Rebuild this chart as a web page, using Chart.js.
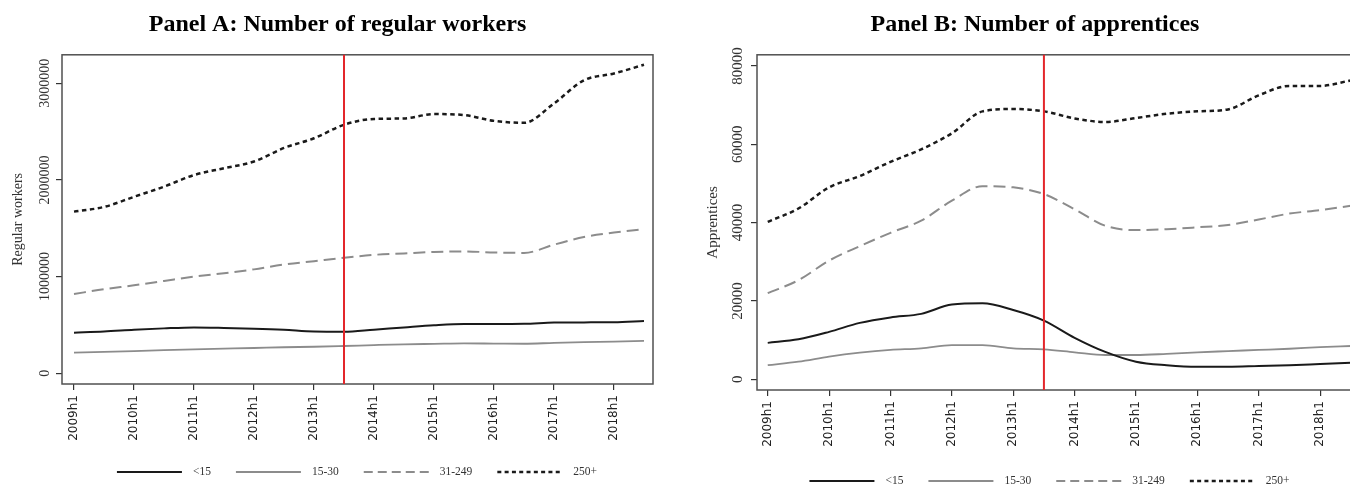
<!DOCTYPE html>
<html>
<head>
<meta charset="utf-8">
<title>Regular workers and apprentices by firm size</title>
<script src="https://cdn.jsdelivr.net/npm/chart.js@4.4.1/dist/chart.umd.min.js"></script>
<style>
  html, body { margin: 0; padding: 0; background: #fff; overflow: hidden; width: 1350px; height: 485px; }
  .panel { position: absolute; top: 0; }
  #panelA { left: 0; width: 675px; height: 485px; }
  #panelB { left: 690px; width: 690px; height: 485px; }
</style>
</head>
<body>
<div class="panel" id="panelA"><canvas id="chartA" width="675" height="485"></canvas></div>
<div class="panel" id="panelB"><canvas id="chartB" width="690" height="485"></canvas></div>
<script>
// Half-year periods on the horizontal axis
const periods = ['2009h1', '2009h2', '2010h1', '2010h2', '2011h1', '2011h2', '2012h1', '2012h2',
  '2013h1', '2013h2', '2014h1', '2014h2', '2015h1', '2015h2', '2016h1', '2016h2',
  '2017h1', '2017h2', '2018h1', '2018h2'];
const tickLabels = ['2009h1', '2010h1', '2011h1', '2012h1', '2013h1', '2014h1', '2015h1', '2016h1', '2017h1', '2018h1'];
const reformPeriod = '2013h2';

// Firm-size classes
const sizeClasses = ['<15', '15-30', '31-249', '250+'];

// Panel A: number of regular workers
const workersLt15 = [420000, 432000, 450000, 465000, 475000, 470000, 462000, 450000, 432000, 430000,
  452000, 475000, 497000, 510000, 510000, 512000, 525000, 527000, 528000, 540000];
const workers15to30 = [215000, 222000, 230000, 240000, 248000, 255000, 262000, 270000, 275000, 283000,
  292000, 300000, 305000, 310000, 308000, 306000, 315000, 322000, 328000, 335000];
const workers31to249 = [820000, 870000, 910000, 955000, 1000000, 1035000, 1075000, 1125000, 1160000, 1195000,
  1225000, 1240000, 1255000, 1260000, 1250000, 1245000, 1330000, 1410000, 1455000, 1490000];
const workers250plus = [1672000, 1720000, 1825000, 1930000, 2050000, 2120000, 2190000, 2330000, 2430000, 2570000,
  2630000, 2635000, 2680000, 2670000, 2610000, 2590000, 2790000, 3030000, 3100000, 3190000];
const workerTicks = [0, 1000000, 2000000, 3000000];

// Panel B: number of apprentices
const apprLt15 = [9300, 10200, 12100, 14400, 15800, 16700, 19100, 19400, 17700, 15000,
  10600, 7000, 4500, 3600, 3200, 3200, 3400, 3600, 3900, 4200];
const appr15to30 = [3600, 4500, 5800, 6800, 7500, 7900, 8750, 8750, 7900, 7650,
  6900, 6200, 6200, 6500, 6900, 7200, 7500, 7800, 8200, 8500];
const appr31to249 = [22000, 25300, 30300, 34000, 37400, 40500, 45600, 49300, 49000, 47300,
  43400, 39200, 38100, 38300, 38800, 39400, 40800, 42300, 43200, 44300];
const appr250plus = [40200, 43600, 49000, 51900, 55500, 58700, 62800, 68400, 69000, 68400,
  66600, 65700, 66700, 67800, 68400, 68900, 72500, 74900, 74900, 76300];
const apprTicks = [0, 20000, 40000, 60000, 80000];

// Line look for each size class
const lineStyles = [
  { color: '#1a1a1a', width: 2,   dash: [] },
  { color: '#8c8c8c', width: 1.8, dash: [] },
  { color: '#8c8c8c', width: 2,   dash: [12, 6] },
  { color: '#1a1a1a', width: 2.5, dash: [4.5, 3.5] }
];
const keyDash = [[], [], [9, 5], [4, 3.3]];

const SERIF = '"Liberation Serif", "Times New Roman", serif';

// Box around the plot area and the red reform marker
const panelFrame = {
  id: 'panelFrame',
  afterDraw(chart, args, opts) {
    const { ctx, chartArea: a, scales } = chart;
    ctx.save();
    ctx.strokeStyle = '#505050';
    ctx.lineWidth = 1.5;
    ctx.strokeRect(a.left, a.top, a.right - a.left, a.bottom - a.top);
    const x = scales.x.getPixelForValue(opts.markIndex);
    ctx.strokeStyle = '#e3262b';
    ctx.lineWidth = 2;
    ctx.beginPath();
    ctx.moveTo(x, a.top);
    ctx.lineTo(x, a.bottom);
    ctx.stroke();
    ctx.restore();
  }
};

// Line-sample key below the axis
const lineKey = {
  id: 'lineKey',
  afterDraw(chart, args, opts) {
    const ctx = chart.ctx;
    ctx.save();
    ctx.font = opts.font;
    const items = chart.data.datasets.map((ds, k) => ({ ds, k, w: ctx.measureText(ds.label).width }));
    const total = items.reduce((s, it) => s + opts.lineLen + opts.gap + it.w, 0) + opts.spacing * (items.length - 1);
    let x = opts.centerX - total / 2;
    items.forEach(it => {
      ctx.strokeStyle = it.ds.borderColor;
      ctx.lineWidth = it.ds.borderWidth;
      ctx.setLineDash(keyDash[it.k]);
      ctx.beginPath();
      ctx.moveTo(x, opts.y);
      ctx.lineTo(x + opts.lineLen, opts.y);
      ctx.stroke();
      ctx.setLineDash([]);
      ctx.fillStyle = '#333';
      ctx.textAlign = 'left';
      ctx.textBaseline = 'middle';
      ctx.fillText(it.ds.label, x + opts.lineLen + opts.gap, opts.y);
      x += opts.lineLen + opts.gap + it.w + opts.spacing;
    });
    ctx.restore();
  }
};

function buildPanel(canvasId, cfg) {
  const tickIdx = tickLabels.map(l => periods.indexOf(l));
  const tickMarks = { display: true, drawOnChartArea: false, drawTicks: true, tickLength: 6, color: '#333', lineWidth: 1.2 };
  return new Chart(document.getElementById(canvasId), {
    type: 'line',
    data: {
      datasets: cfg.series.map((vals, k) => ({
        label: sizeClasses[k],
        data: vals.map((v, i) => ({ x: i, y: v })),
        borderColor: lineStyles[k].color,
        borderWidth: lineStyles[k].width,
        borderDash: lineStyles[k].dash,
        pointRadius: 0,
        fill: false,
        cubicInterpolationMode: 'monotone'
      }))
    },
    options: {
      responsive: false,
      animation: false,
      devicePixelRatio: 1,
      layout: { padding: { left: 0, right: 0, top: 0, bottom: cfg.padBottom }, autoPadding: false },
      plugins: {
        legend: { display: false },
        tooltip: { enabled: false },
        title: {
          display: true,
          text: cfg.title,
          color: '#000',
          font: { family: SERIF, size: 24, weight: 'bold' },
          padding: { top: 10, bottom: 16 }
        },
        panelFrame: { markIndex: periods.indexOf(reformPeriod) },
        lineKey: { centerX: cfg.keyX, y: cfg.keyY, lineLen: 65, gap: 11, spacing: 25, font: '11.5px ' + SERIF }
      },
      scales: {
        x: {
          type: 'linear',
          min: cfg.xMin,
          max: cfg.xMax,
          afterBuildTicks: s => { s.ticks = tickIdx.map(v => ({ value: v })); },
          afterFit: s => { s.height = 60; },
          ticks: {
            callback: v => periods[v],
            autoSkip: false,
            minRotation: 90,
            maxRotation: 90,
            padding: 5,
            color: '#222',
            font: { family: '"DejaVu Sans", sans-serif', size: 12 }
          },
          grid: tickMarks,
          border: { display: false }
        },
        y: {
          type: 'linear',
          position: 'left',
          min: cfg.yMin,
          max: cfg.yMax,
          afterBuildTicks: s => { s.ticks = cfg.yTicks.map(v => ({ value: v })); },
          afterFit: s => { s.width = cfg.yWidth; },
          ticks: {
            callback: v => String(v),
            minRotation: 90,
            maxRotation: 90,
            crossAlign: 'center',
            padding: cfg.yTickPad,
            color: '#333',
            font: { family: SERIF, size: cfg.yFont }
          },
          title: {
            display: true,
            text: cfg.yTitle,
            color: '#333',
            font: { family: SERIF, size: cfg.yFont },
            padding: { top: cfg.yTitlePad, bottom: 0 }
          },
          grid: tickMarks,
          border: { display: false }
        },
        yRight: {
          type: 'linear',
          position: 'right',
          display: true,
          ticks: { display: false },
          grid: { display: false },
          border: { display: false },
          afterFit: s => { s.width = cfg.rightGap; }
        }
      }
    },
    plugins: [panelFrame, lineKey]
  });
}

buildPanel('chartA', {
  title: 'Panel A: Number of regular workers',
  yTitle: 'Regular workers',
  series: [workersLt15, workers15to30, workers31to249, workers250plus],
  yTicks: workerTicks,
  yMin: -110000, yMax: 3293000,
  xMin: -0.4, xMax: 19.3,
  yWidth: 62, rightGap: 22, padBottom: 41,
  yFont: 14, yTickPad: -13.5, yTitlePad: 9.6,
  keyX: 357, keyY: 472
});

buildPanel('chartB', {
  title: 'Panel B: Number of apprentices',
  yTitle: 'Apprentices',
  series: [apprLt15, appr15to30, appr31to249, appr250plus],
  yTicks: apprTicks,
  yMin: -2730, yMax: 82840,
  xMin: -0.35, xMax: 19.3,
  yWidth: 67, rightGap: 20, padBottom: 35,
  yFont: 15, yTickPad: -5.75, yTitlePad: 13.7,
  keyX: 359.5, keyY: 481
});
</script>
</body>
</html>
